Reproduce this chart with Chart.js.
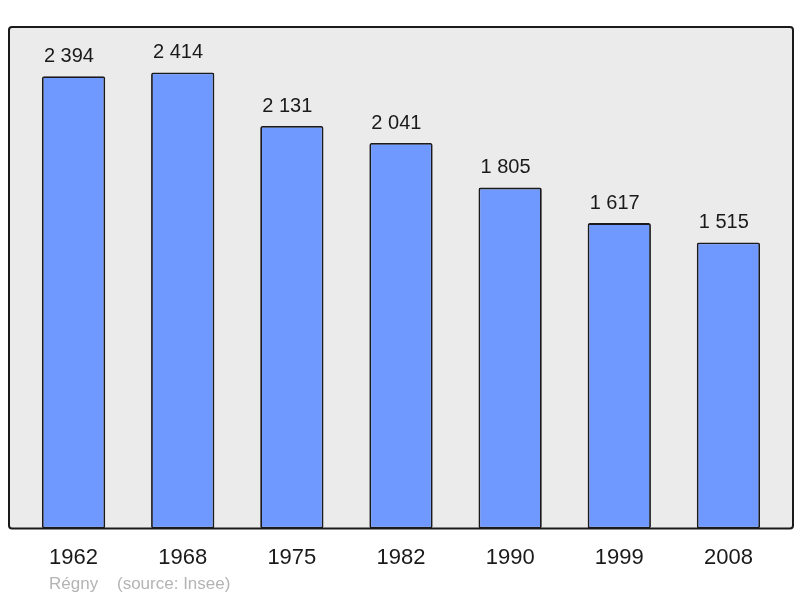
<!DOCTYPE html>
<html>
<head>
<meta charset="utf-8">
<script src="https://cdn.jsdelivr.net/npm/chart.js@4/dist/chart.umd.min.js"></script>
<style>
  html, body { margin: 0; padding: 0; background: #ffffff; }
  #wrap { width: 800px; height: 598px; }
</style>
</head>
<body>
<div id="wrap"><canvas id="popChart" width="800" height="598"></canvas></div>
<script>
// population data (Insee)
const years = ['1962', '1968', '1975', '1982', '1990', '1999', '2008'];
const population = [2394, 2414, 2131, 2041, 1805, 1617, 1515];
const placeName = 'Régny';
const sourceNote = '(source: Insee)';

const fmtPop = v => String(v).replace(/\B(?=(\d{3})+(?!\d))/g, ' ');

// grey frame behind the bars
const framePlugin = {
  id: 'frame',
  beforeDraw(chart) {
    const { ctx, chartArea: a } = chart;
    const x = a.left - 10, y = a.top, w = a.right - a.left + 20, h = a.bottom - a.top;
    ctx.save();
    ctx.beginPath();
    ctx.roundRect(x, y, w, h, 3);
    ctx.fillStyle = '#ebebeb';
    ctx.fill();
    ctx.restore();
  },
  afterDatasetsDraw(chart) {
    const { ctx, chartArea: a } = chart;
    const x = a.left - 10, y = a.top, w = a.right - a.left + 20, h = a.bottom - a.top;
    ctx.save();
    ctx.beginPath();
    ctx.roundRect(x, y, w, h, 3);
    ctx.lineWidth = 2;
    ctx.strokeStyle = '#1a1a1a';
    ctx.stroke();

    // value labels above bars (start near the bar's left edge)
    const meta = chart.getDatasetMeta(0);
    ctx.fillStyle = '#1a1a1a';
    ctx.font = '20px "Liberation Sans", Arial, sans-serif';
    ctx.textAlign = 'left';
    ctx.textBaseline = 'bottom';
    meta.data.forEach((bar, i) => {
      ctx.fillText(fmtPop(population[i]), bar.x - bar.width / 2 + 2, bar.y - 10);
    });

    // footer note
    ctx.fillStyle = '#b4b4b4';
    ctx.font = '17px "Liberation Sans", Arial, sans-serif';
    ctx.textAlign = 'left';
    ctx.textBaseline = 'middle';
    ctx.fillText(placeName, 49, 584);
    ctx.fillText(sourceNote, 117, 584);
    ctx.restore();
  }
};

new Chart(document.getElementById('popChart'), {
  type: 'bar',
  data: {
    labels: years,
    datasets: [{
      data: population,
      backgroundColor: '#7099ff',
      borderColor: '#1a1a1a',
      borderWidth: 1.8,
      borderRadius: 2,
      borderSkipped: false,
      barPercentage: 0.58,
      categoryPercentage: 1.0
    }]
  },
  options: {
    responsive: false,
    animation: false,
    layout: { padding: { left: 19, right: 17, top: 27, bottom: 19 } },
    plugins: { legend: { display: false }, tooltip: { enabled: false } },
    scales: {
      x: {
        grid: { display: false },
        border: { display: false },
        ticks: { color: '#1a1a1a', padding: 8, font: { family: '"Liberation Sans", Arial, sans-serif', size: 22 } }
      },
      y: {
        display: false,
        min: 0,
        max: 2655
      }
    }
  },
  plugins: [framePlugin]
});
</script>
</body>
</html>
